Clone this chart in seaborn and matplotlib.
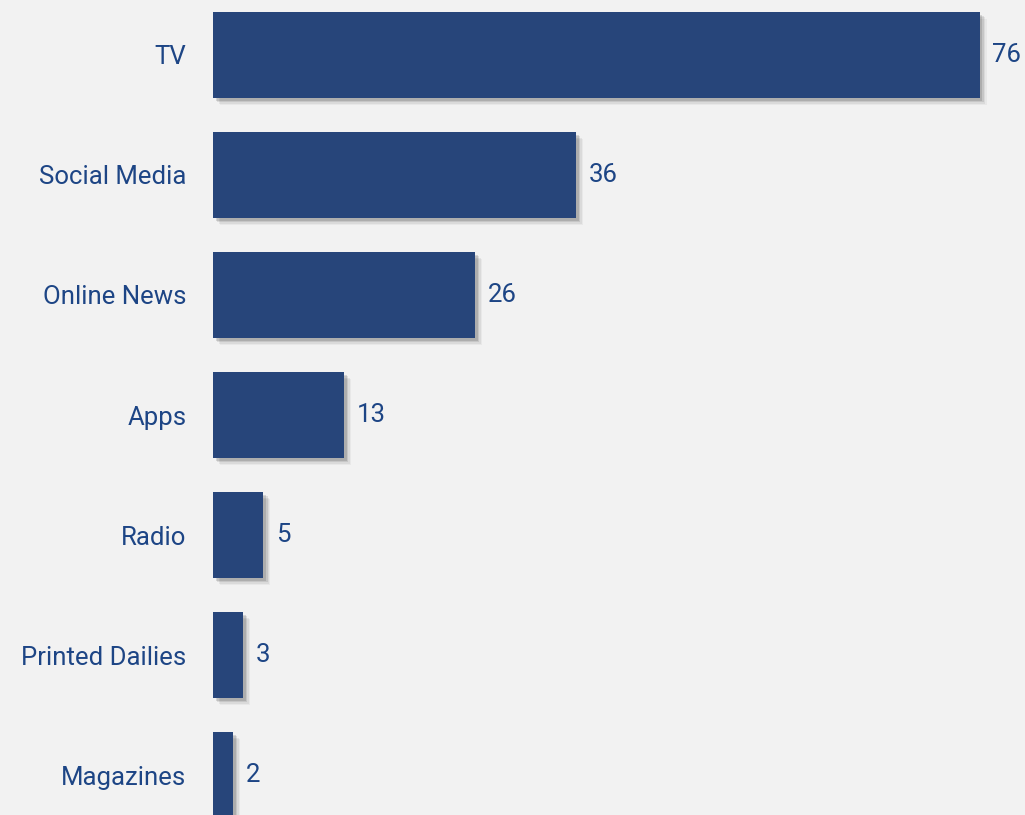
import matplotlib
matplotlib.use("Agg")
import matplotlib.pyplot as plt
import matplotlib.patheffects as pe
import seaborn as sns
import pandas as pd

categories = ["TV", "Social Media", "Online News", "Apps", "Radio", "Printed Dailies", "Magazines"]
values = [76, 36, 26, 13, 5, 3, 2]

BG = "#f2f2f2"
BAR = "#27457a"
TXT = "#1d4585"

sns.set_theme(style="white")
plt.rcParams['font.family'] = ['Roboto', 'DejaVu Sans']

df = pd.DataFrame({"category": categories, "value": values})

fig = plt.figure(figsize=(10.25, 8.15), dpi=100, facecolor=BG)
ax = fig.add_axes([213 / 1025, 0, 812 / 1025, 1])
ax.set_facecolor(BG)

sns.barplot(data=df, y="category", x="value", orient="h", color=BAR,
            saturation=1, width=0.717, ax=ax)

shadow = [pe.SimplePatchShadow(offset=(o, -o), shadow_rgbFace="#000000", alpha=a)
          for o, a in [(5, 0.04), (4, 0.06), (3, 0.09), (2, 0.12)]] + [pe.Normal()]
for p in ax.patches:
    p.set_path_effects(shadow)
    p.set_edgecolor("none")

ax.bar_label(ax.containers[0], labels=[str(v) for v in values], padding=9,
             color=TXT, fontsize=18.5)

ax.set_xlim(0, 80.5)
ax.set_ylim(6.333, -0.458)
ax.set_xlabel("")
ax.set_ylabel("")
ax.set_xticks([])
ax.tick_params(axis="y", length=0, pad=19, labelsize=18.5, labelcolor=TXT)
for s in ax.spines.values():
    s.set_visible(False)

fig.savefig("out.png", dpi=100, facecolor=BG)
